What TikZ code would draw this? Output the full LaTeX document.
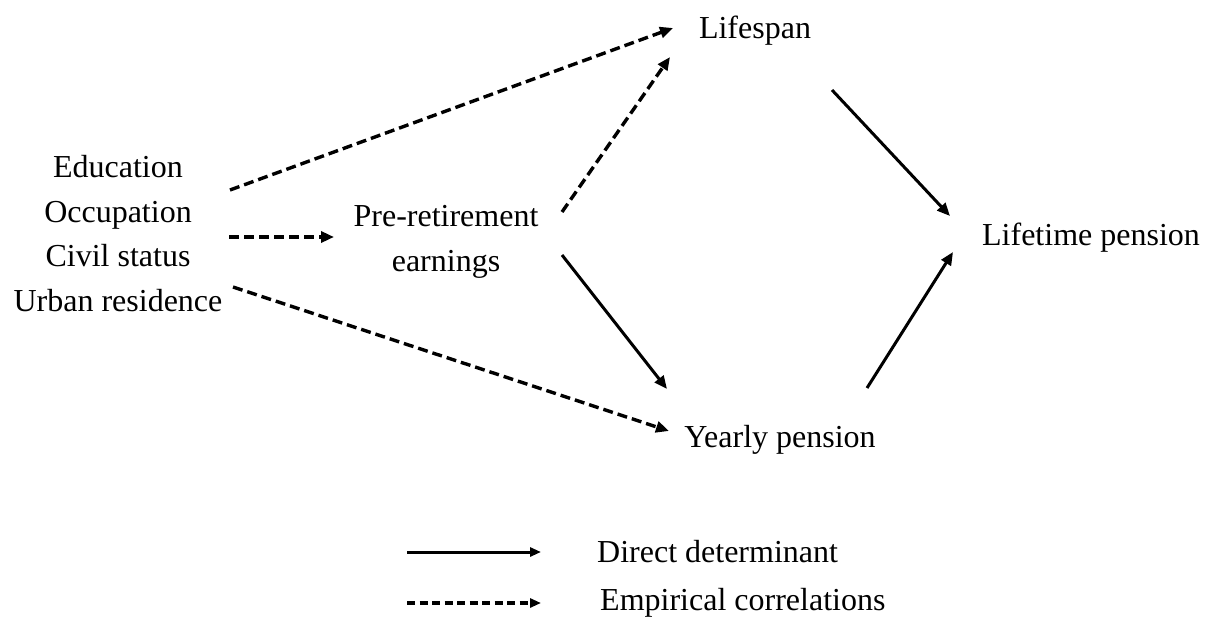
\documentclass[tikz,border=0pt]{standalone}
\usepackage{fontspec}
\setmainfont{Liberation Serif}
\usetikzlibrary{arrows.meta}
\begin{document}
\begin{tikzpicture}[x=1pt,y=-1pt,
  lbl/.style={font=\fontsize{32}{44.5}\selectfont, inner sep=0pt, anchor=base, align=center},
  leg/.style={font=\fontsize{32}{38}\selectfont, inner sep=0pt, anchor=base west},
  solidarr/.style={line width=3pt, -{Triangle[length=13pt,width=11pt]}},
  dasharr/.style={line width=3.4pt, dash pattern=on 10pt off 5pt, -{Triangle[length=13pt,width=11pt]}}]
\useasboundingbox (0,0) rectangle (1214,618);
% nodes (anchor base = last line)
\node[lbl] (life) at (755,38) {Lifespan};
\node[lbl] (det) at (118,311) {Education\\Occupation\\Civil status\\Urban residence};
\node[lbl] (pre) at (446,271) {Pre-retirement\\earnings};
\node[lbl] (ltp) at (1091,245) {Lifetime pension};
\node[lbl] (yp) at (780,447) {Yearly pension};
% connector end points
\coordinate (d1s) at (230,190); \coordinate (d1e) at (673,28);
\coordinate (d2s) at (229,237); \coordinate (d2e) at (334,237);
\coordinate (d3s) at (233,287); \coordinate (d3e) at (669,431);
\coordinate (p1s) at (562,212); \coordinate (p1e) at (670,57);
\coordinate (p2s) at (562,255); \coordinate (p2e) at (667,389);
\coordinate (l1s) at (832,90);  \coordinate (l1e) at (950,216);
\coordinate (y1s) at (867,388); \coordinate (y1e) at (953,252);
% arrows
\draw[dasharr] (d1s) -- (d1e);
\draw[dasharr] (d2s) -- (d2e);
\draw[dasharr] (d3s) -- (d3e);
\draw[dasharr] (p1s) -- (p1e);
\draw[solidarr] (p2s) -- (p2e);
\draw[solidarr] (l1s) -- (l1e);
\draw[solidarr] (y1s) -- (y1e);
% legend
\coordinate (ls1) at (407,552); \coordinate (le1) at (541,552);
\coordinate (ls2) at (407,603); \coordinate (le2) at (541,603);
\draw[line width=3pt, -{Triangle[length=11pt,width=9pt]}] (ls1) -- (le1);
\draw[line width=3.2pt, dash pattern=on 8pt off 4.5pt, -{Triangle[length=11pt,width=9pt]}] (ls2) -- (le2);
\node[leg] (legd) at (597,562) {Direct determinant};
\node[leg] (lege) at (600,610) {Empirical correlations};
\end{tikzpicture}
\end{document}
